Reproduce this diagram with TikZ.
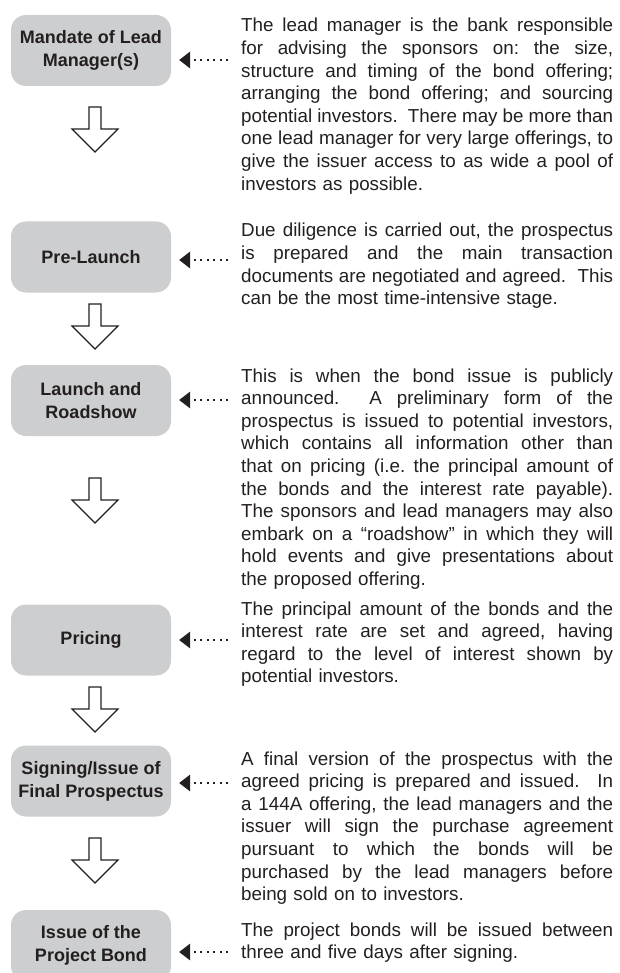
\documentclass[tikz,border=0pt]{standalone}
\usepackage{fontspec}
\setmainfont{Liberation Sans}
\usepackage{tikz}

\definecolor{boxgray}{RGB}{205,206,208}
\definecolor{ink}{RGB}{35,31,32}

% one justified line of the descriptions
\newcommand{\jline}[1]{\hbox to 372pt{\spaceskip=.278em plus 1fil minus .1em #1}}

\tikzset{
  stage/.style={fill=boxgray, rounded corners=15pt, minimum width=160pt,
    minimum height=71pt, align=center, text=ink,
    font=\fontsize{18}{23}\selectfont\bfseries},
  desc/.style={anchor=base west, inner sep=0pt, text width=372pt, text=ink,
    font=\fontsize{18.8}{22.6}\selectfont\frenchspacing},
  dotline/.style={ink, line width=2pt, dash pattern=on 2pt off 4.5pt},
  hollow/.style={draw=ink, fill=white, line width=1.1pt, line join=miter}
}

\begin{document}
\begin{tikzpicture}[x=1pt,y=-1pt]
\clip (0,0) rectangle (619,973);

% stages
\node[stage] (mandate) at (91,50.5) {Mandate of Lead\\Manager(s)};
\node[stage] (prelaunch) at (91,257) {Pre-Launch};
\node[stage] (launch) at (91,400.5) {Launch and\\Roadshow};
\node[stage] (pricing) at (91,640) {Pricing};
\node[stage] (signing) at (91,781) {Signing/Issue of\\Final Prospectus};
\node[stage] (issue) at (91,945.5) {Issue of the\\Project Bond};

% down arrows
\foreach \y in {107,304,478,687,838}
  \draw[hollow] (89,\y) -- (101,\y) -- (101,\y+22) -- (118,\y+22)
    -- (95,\y+45) -- (72,\y+22) -- (89,\y+22) -- cycle;

% descriptions
\node[desc] (d1) at (241,32) {%
\jline{The lead manager is the bank responsible}
\jline{for advising the sponsors on: the size,}
\jline{structure and timing of the bond offering;}
\jline{arranging the bond offering; and sourcing}
\jline{potential investors.\ \ There may be more than}
\jline{one lead manager for very large offerings, to}
\jline{give the issuer access to as wide a pool of}
\hbox{investors as possible.}};

\node[desc] (d2) at (241,237) {%
\jline{Due diligence is carried out, the prospectus}
\jline{is prepared and the main transaction}
\jline{documents are negotiated and agreed.\ \ This}
\hbox{can be the most time-intensive stage.}};

\node[desc] (d3) at (241,382) {%
\jline{This is when the bond issue is publicly}
\jline{announced.\ \ A preliminary form of the}
\jline{prospectus is issued to potential investors,}
\jline{which contains all information other than}
\jline{that on pricing (i.e. the principal amount of}
\jline{the bonds and the interest rate payable).}
\jline{The sponsors and lead managers may also}
\jline{embark on a “roadshow” in which they will}
\jline{hold events and give presentations about}
\hbox{the proposed offering.}};

\node[desc] (d4) at (241,615) {%
\jline{The principal amount of the bonds and the}
\jline{interest rate are set and agreed, having}
\jline{regard to the level of interest shown by}
\hbox{potential investors.}};

\node[desc] (d5) at (241,765) {%
\jline{A final version of the prospectus with the}
\jline{agreed pricing is prepared and issued.\ \ In}
\jline{a 144A offering, the lead managers and the}
\jline{issuer will sign the purchase agreement}
\jline{pursuant to which the bonds will be}
\jline{purchased by the lead managers before}
\hbox{being sold on to investors.}};

\node[desc] (d6) at (241,936) {%
\jline{The project bonds will be issued between}
\hbox{three and five days after signing.}};

% dotted pointers
\coordinate (p1) at (228,60);
\coordinate (p2) at (228,260);
\coordinate (p3) at (228,400);
\coordinate (p4) at (228,640);
\coordinate (p5) at (228,783);
\coordinate (p6) at (228,952);
\foreach \p/\b in {p1/mandate, p2/prelaunch, p3/launch, p4/pricing,
                   p5/signing, p6/issue} {
  \path (\p -| \b.east) ++(8,0) coordinate (t\p);
  \draw[dotline] (\p) -- ([xshift=10pt]t\p);
  \fill[ink] (t\p) -- ++(11,-8.5) -- ++(0,17) -- cycle;
}
\end{tikzpicture}
\end{document}
